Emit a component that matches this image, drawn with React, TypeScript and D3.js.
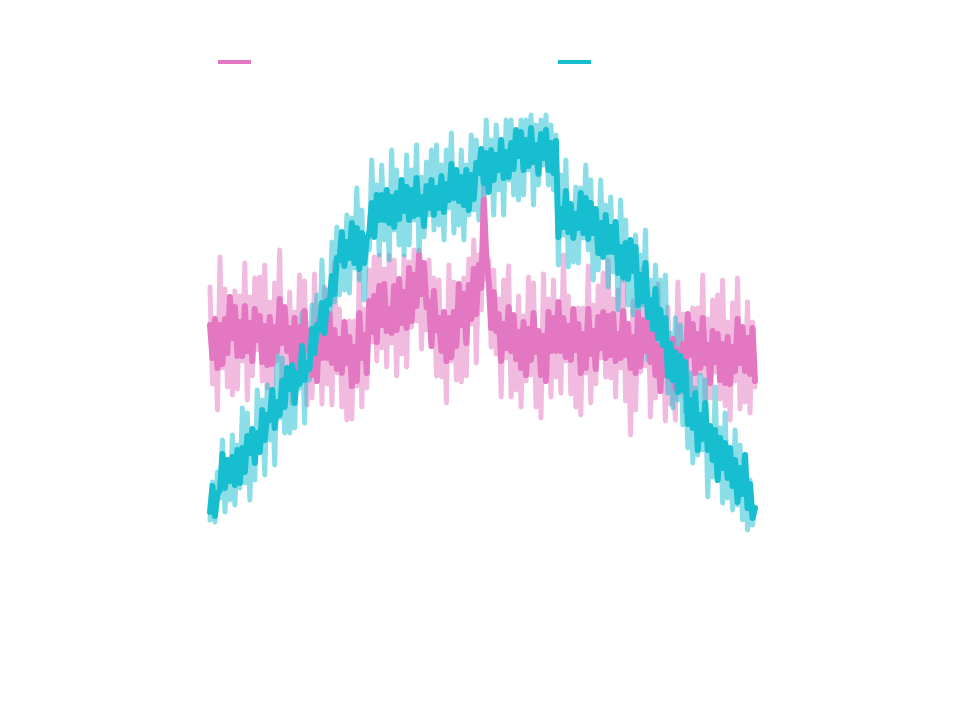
import React from 'react';
import * as d3 from 'd3';

// values (arbitrary units, higher = up)
const pinkRaw = [
  313, 216, 281, 190, 343, 232, 311, 213, 290, 205, 309, 211, 304, 239, 337, 200,
  303, 224, 322, 250, 323, 219, 335, 212, 298, 200, 317, 239, 350, 211, 283, 218,
  308, 197, 288, 223, 325, 227, 319, 195, 268, 202, 326, 222, 294, 196, 313, 216,
  286, 195, 338, 227, 291, 193, 265, 180, 279, 181, 279, 214, 330, 193, 291, 212,
  330, 258, 343, 239, 345, 252, 331, 233, 345, 257, 340, 224, 311, 246, 344, 233,
  338, 273, 350, 279, 350, 251, 336, 270, 340, 257, 322, 224, 320, 223, 288, 197,
  335, 239, 318, 220, 303, 218, 322, 224, 341, 276, 360, 237, 345, 290, 420, 320,
  340, 253, 330, 246, 301, 203, 320, 242, 334, 203, 275, 210, 304, 193, 284, 219,
  323, 225, 317, 193, 268, 182, 326, 222, 301, 203, 320, 223, 298, 207, 345, 239,
  304, 206, 278, 193, 292, 185, 292, 227, 334, 197, 295, 216, 314, 242, 327, 223,
  340, 222, 301, 203, 310, 232, 330, 199, 266, 165, 299, 190, 293, 228, 332, 234,
  307, 183, 268, 202, 316, 212, 277, 179, 293, 196, 261, 180, 318, 207, 286, 188,
  273, 188, 292, 194, 292, 227, 325, 188, 281, 202, 300, 228, 305, 201, 320, 194,
  278, 180, 297, 219, 322, 191, 263, 198, 298, 187, 278, 213,
];
const pinkSmooth = [
  275, 242, 281, 232, 275, 236, 281, 247, 303, 262, 293, 244, 278, 244, 294, 249,
  277, 239, 291, 260, 284, 238, 274, 235, 283, 236, 273, 249, 301, 257, 293, 249,
  272, 236, 282, 229, 273, 242, 289, 250, 269, 225, 264, 219, 281, 242, 275, 242,
  286, 237, 270, 231, 261, 227, 278, 237, 263, 214, 253, 219, 287, 242, 265, 227,
  299, 268, 304, 258, 314, 275, 316, 269, 291, 267, 314, 270, 321, 277, 308, 272,
  332, 279, 325, 294, 345, 306, 337, 293, 299, 254, 309, 270, 282, 249, 288, 239,
  282, 243, 288, 254, 316, 275, 306, 257, 315, 281, 331, 286, 335, 312, 400, 345,
  318, 272, 308, 269, 286, 239, 276, 252, 293, 249, 285, 241, 268, 232, 278, 225,
  271, 240, 287, 248, 269, 225, 264, 219, 288, 249, 282, 249, 298, 249, 282, 243,
  274, 240, 291, 250, 276, 227, 266, 232, 291, 246, 269, 231, 283, 252, 288, 242,
  284, 245, 286, 239, 266, 242, 289, 245, 276, 232, 263, 227, 287, 234, 280, 249,
  277, 238, 269, 225, 254, 209, 264, 225, 255, 222, 261, 212, 250, 211, 256, 222,
  286, 245, 276, 227, 266, 232, 282, 237, 255, 217, 269, 238, 266, 220, 256, 217,
  263, 216, 253, 229, 281, 237, 273, 229, 262, 226, 272, 219,
];
const cyanRaw = [
  80, 118, 78, 128, 102, 160, 88, 132, 100, 165, 95, 155, 112, 192, 117, 187,
  100, 170, 120, 210, 150, 200, 125, 215, 160, 210, 135, 245, 182, 242, 167, 222,
  167, 247, 172, 247, 212, 287, 177, 257, 220, 295, 240, 305, 255, 340, 250, 310,
  268, 358, 298, 373, 305, 360, 310, 385, 307, 382, 332, 412, 320, 390, 300, 360,
  350, 440, 365, 415, 345, 435, 360, 410, 340, 450, 370, 430, 355, 410, 345, 445,
  355, 430, 380, 455, 343, 423, 363, 438, 385, 450, 370, 455, 375, 435, 360, 450,
  392, 467, 367, 422, 375, 450, 360, 435, 385, 465, 390, 460, 380, 450, 400, 480,
  410, 460, 385, 475, 410, 460, 385, 480, 420, 480, 405, 460, 400, 480, 405, 480,
  430, 485, 395, 475, 415, 480, 435, 485, 415, 475, 410, 465, 335, 425, 365, 440,
  333, 388, 338, 413, 337, 412, 362, 435, 350, 420, 320, 390, 330, 420, 345, 395,
  313, 403, 328, 378, 290, 400, 320, 380, 295, 350, 285, 365, 270, 345, 295, 370,
  240, 320, 260, 335, 255, 320, 240, 325, 207, 267, 192, 282, 200, 275, 175, 230,
  152, 227, 137, 212, 145, 225, 150, 220, 103, 173, 123, 213, 122, 172, 97, 187,
  102, 152, 90, 170, 95, 155, 80, 135, 70, 120, 75, 92,
];
const cyanSmooth = [
  88, 114, 84, 106, 110, 146, 112, 140, 119, 143, 115, 150, 117, 152, 128, 164,
  147, 171, 137, 167, 148, 190, 160, 185, 180, 210, 172, 198, 185, 219, 193, 232,
  211, 235, 197, 227, 216, 254, 220, 237, 231, 271, 247, 275, 270, 297, 267, 299,
  296, 324, 306, 342, 340, 368, 334, 358, 342, 377, 337, 372, 331, 367, 337, 361,
  367, 397, 363, 405, 380, 405, 380, 410, 377, 403, 373, 407, 381, 420, 389, 413,
  380, 410, 384, 422, 386, 403, 374, 414, 392, 420, 385, 412, 392, 424, 388, 416,
  400, 436, 402, 430, 399, 423, 395, 430, 390, 425, 401, 437, 427, 451, 417, 447,
  408, 450, 420, 445, 430, 460, 422, 448, 423, 457, 431, 470, 444, 468, 430, 460,
  434, 472, 438, 455, 426, 466, 442, 470, 430, 457, 427, 459, 363, 391, 373, 409,
  368, 396, 362, 386, 372, 407, 367, 402, 361, 397, 367, 391, 347, 377, 343, 385,
  348, 373, 348, 378, 327, 353, 323, 357, 321, 360, 329, 353, 295, 325, 299, 337,
  283, 300, 271, 311, 262, 290, 255, 282, 224, 256, 220, 248, 208, 244, 210, 238,
  176, 200, 172, 207, 150, 185, 161, 197, 150, 174, 140, 170, 120, 162, 132, 157,
  122, 152, 114, 140, 98, 132, 106, 145, 92, 116, 82, 92,
];

const PINK = '#e377c2';
const CYAN = '#17becf';

const W = 968;
const H = 716;
const x0 = 210;
const x1 = 755;

const y = d3.scaleLinear().domain([0, 500]).range([600, 100]);

const path = (vals: number[]) => {
  const x = d3.scaleLinear().domain([0, vals.length - 1]).range([x0, x1]);
  return d3.line<number>().x((_, i) => x(i)).y(d => y(d))(vals) || '';
};

const App = () => {
  return (
    <div style={{ position: 'absolute', left: 0, top: 0 }}>
      <svg width={W} height={H} style={{ display: 'block', background: '#fff' }}>
        <g fill="none" strokeLinecap="round" strokeLinejoin="round">
          <path d={path(pinkRaw)} stroke={PINK} strokeOpacity={0.5} strokeWidth={5} />
          <path d={path(cyanRaw)} stroke={CYAN} strokeOpacity={0.5} strokeWidth={5} />
          <path d={path(pinkSmooth)} stroke={PINK} strokeWidth={6} />
          <path d={path(cyanSmooth)} stroke={CYAN} strokeWidth={6} />
        </g>
        {/* legend, no labels */}
        <line x1={218} x2={251} y1={62} y2={62} stroke={PINK} strokeWidth={4} />
        <line x1={558} x2={591} y1={62} y2={62} stroke={CYAN} strokeWidth={4} />
      </svg>
    </div>
  );
};

export default App;
